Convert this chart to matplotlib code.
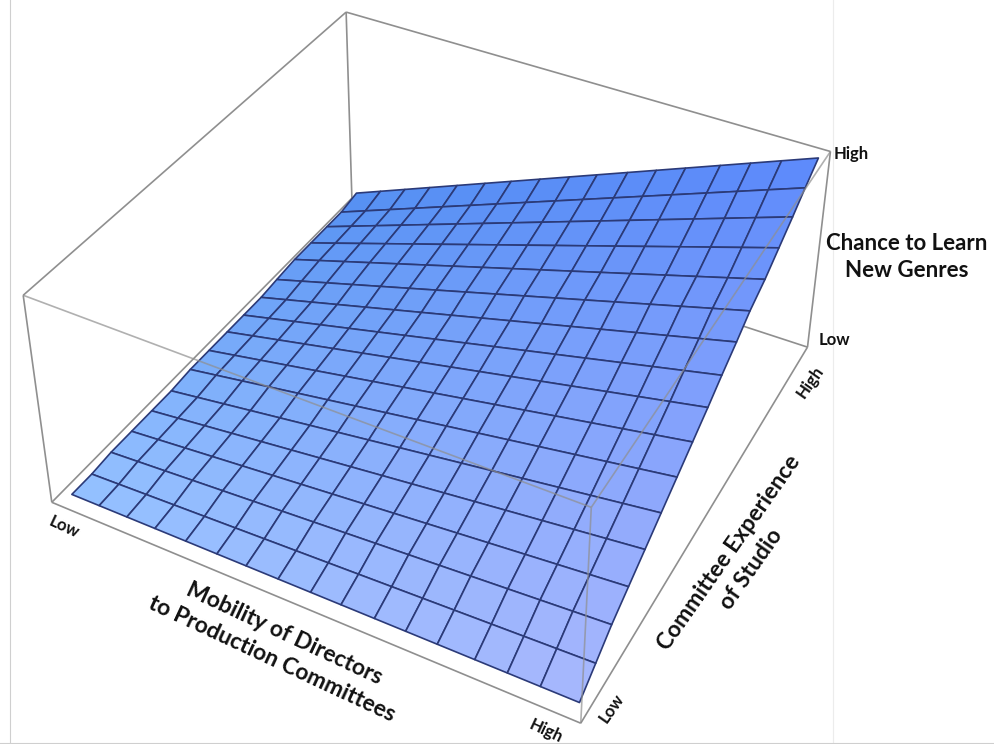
import matplotlib
matplotlib.use("Agg")
import matplotlib.pyplot as plt
from matplotlib.lines import Line2D
from mpl_toolkits.mplot3d.art3d import Line3DCollection
import numpy as np

WIDTH, HEIGHT = 994, 744

# surface values (17 x 17 grid lines)
mobility = [0.0, 0.06, 0.12, 0.18, 0.245, 0.31, 0.37, 0.435, 0.50,
            0.56, 0.625, 0.685, 0.745, 0.815, 0.875, 0.935, 1.005]
committee = [-0.005, 0.055, 0.115, 0.18, 0.245, 0.31, 0.375, 0.44, 0.505,
             0.565, 0.63, 0.69, 0.76, 0.825, 0.89, 0.95, 1.015]
# height along the low-mobility and the high-mobility edge, per committee line
low_edge_height = [0.0, 0.0, 0.01, 0.01, 0.01, 0.01, 0.02, 0.02, 0.02,
                   0.02, 0.02, 0.03, 0.04, 0.04, 0.04, 0.04, 0.06]
high_edge_height = [0.01, 0.08, 0.15, 0.21, 0.27, 0.33, 0.39, 0.45, 0.51,
                    0.57, 0.63, 0.69, 0.74, 0.80, 0.86, 0.92, 0.98]

axis_ticks_low = "Low"
axis_ticks_high = "High"

# box corners on the page, used to calibrate the camera: (x, y, z) -> pixel
X_LO, X_HI = -0.0125, 1.026
Y_LO, Y_HI = -0.0457, 1.016
Z_LO, Z_HI = 0.02, 1.03
corners = [
    ((X_LO, Y_LO, Z_LO), (52, 503)),
    ((X_HI, Y_LO, Z_LO), (581, 723)),
    ((X_HI, Y_HI, Z_LO), (807, 348)),
    ((X_LO, Y_HI, Z_LO), (352, 197)),
    ((X_LO, Y_LO, Z_HI), (23, 295)),
    ((X_HI, Y_LO, Z_HI), (591, 507)),
    ((X_HI, Y_HI, Z_HI), (831, 151)),
    ((X_LO, Y_HI, Z_HI), (346, 13)),
]


def solve_camera():
    rows = []
    for (x, y, z), (u, v) in corners:
        rows.append([x, y, z, 1, 0, 0, 0, 0, -u * x, -u * y, -u * z, -u])
        rows.append([0, 0, 0, 0, x, y, z, 1, -v * x, -v * y, -v * z, -v])
    p = np.linalg.svd(np.array(rows, dtype=float))[2][-1].reshape(3, 4)
    if p[2] @ np.array([0.5, 0.5, 0.5, 1.0]) < 0:
        p = -p
    return p / (p[2] @ np.array([0.5, 0.5, 0.5, 1.0]))


CAMERA = solve_camera()

fig = plt.figure(figsize=(WIDTH / 100, HEIGHT / 100), dpi=100, facecolor="white")
extra = (WIDTH - HEIGHT) / 2 / HEIGHT
ax = fig.add_axes([0, -extra, 1, WIDTH / HEIGHT], projection="3d", computed_zorder=False)
ax.set_axis_off()


def get_proj():
    # page pixels -> 2d axes coordinates, then a depth row for the 3d sorter
    page = np.array([[1, 0, 0], [0, -1, HEIGHT], [0, 0, 1]], dtype=float)
    h = ax.transData.inverted().get_matrix() @ page @ CAMERA
    depth = np.array([-0.3, 0.3, -0.1, 0.5]) + 0.5 * CAMERA[2]
    return np.vstack([h[0], h[1], depth, h[2]])


ax.get_proj = get_proj

X, Y = np.meshgrid(mobility, committee)
Z = np.outer(low_edge_height, 1 - np.array(mobility)) + np.outer(high_edge_height, mobility)

# lighting of the four surface corners
col_a = np.array(matplotlib.colors.to_rgb("#93c0ff"))
col_b = np.array(matplotlib.colors.to_rgb("#a6b6fd"))
col_c = np.array(matplotlib.colors.to_rgb("#5b88fb"))
col_d = np.array(matplotlib.colors.to_rgb("#548ff2"))
u = np.clip(X, 0, 1)[..., None]
v = np.clip(Y, 0, 1)[..., None]
colors = (1 - u) * (1 - v) * col_a + u * (1 - v) * col_b + u * v * col_c + (1 - u) * v * col_d

box_col = "#8f8f8f"
p000, p100, p110, p010 = [c[0] for c in corners[:4]]
p001, p101, p111, p011 = [c[0] for c in corners[4:]]

# edges behind the surface
back = [(p000, p100), (p100, p110), (p110, p010), (p010, p000), (p010, p011),
        (p011, p111), (p011, p001), (p000, p001), (p110, p111)]
ax.add_collection3d(Line3DCollection(back, colors=box_col, linewidths=1.2, zorder=1))

ax.plot_surface(X, Y, Z, rstride=1, cstride=1, facecolors=colors, edgecolor="#2b3a78",
                linewidth=1.2, shade=False, antialiased=True, zorder=2)

# edges in front of the surface
front = [(p001, p101), (p101, p111), (p100, p101)]
ax.add_collection3d(Line3DCollection(front, colors=box_col, linewidths=1.2, alpha=0.7, zorder=3))


def page_text(x, y, s, size=12, rot=0, weight="bold", **kw):
    fig.text(x / WIDTH, 1 - y / HEIGHT, s, fontsize=size, rotation=rot, rotation_mode="anchor",
             ha="center", va="center", color="#111111", family="Lato", fontweight=weight,
             linespacing=1.4, **kw)


page_text(64, 527, axis_ticks_low, rot=-25)
page_text(546, 731, axis_ticks_high, rot=-25)
page_text(612, 708, axis_ticks_low, rot=55)
page_text(810, 382, axis_ticks_high, rot=55)
page_text(834, 340, axis_ticks_low)
page_text(851, 154, axis_ticks_high)
page_text(907, 257, "Chance to Learn\nNew Genres", size=16)
page_text(278, 646, "Mobility of Directors\nto Production Committees", size=16.5, rot=-25)
page_text(740, 561, "Committee Experience\nof Studio", size=16.5, rot=55)

# faint edges of the scanned page
fig.add_artist(Line2D([833 / WIDTH] * 2, [0, 1], color="#ececec", lw=0.8))
fig.add_artist(Line2D([10 / WIDTH] * 2, [0, 1], color="#cfcfcf", lw=0.8))
fig.add_artist(Line2D([0, 1], [1 / HEIGHT] * 2, color="#cfcfcf", lw=0.8))

fig.savefig("out.png", dpi=100, facecolor="white")
